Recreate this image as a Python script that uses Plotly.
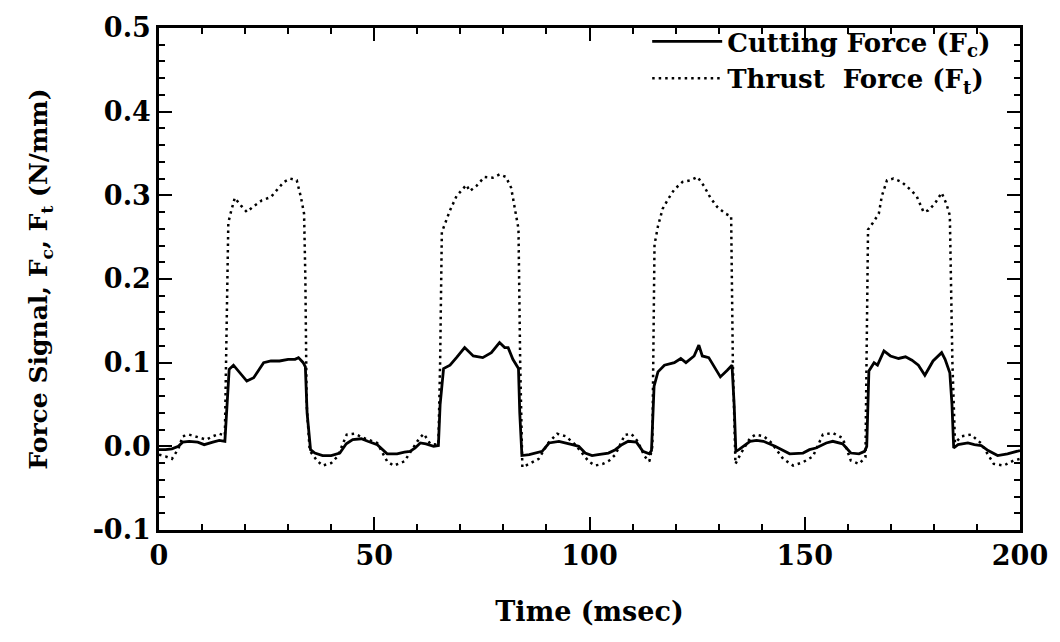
import plotly.graph_objects as go

# ---- data ----
time_fc = [0, 1.5, 3, 4.5, 5.5, 7, 9, 10.5, 12.5, 14, 15.3, 15.8, 16.3, 17.3, 18.5, 20.4, 22, 24.3, 26, 28, 30, 31.6, 32.4, 33.5, 34.0, 34.4, 35.2, 36.2, 38, 40, 42, 43.5, 45, 47, 48.5, 50.7, 53, 55.3, 57, 58.3, 59.5, 60.7, 62, 63.8, 64.9, 65.3, 66.1, 67.6, 69.1, 71.0, 73.0, 75.2, 77.2, 79.1, 80.3, 81.1, 82.2, 83.5, 83.8, 84.3, 86, 87.5, 89, 90.6, 92.9, 96.0, 97.5, 99.0, 100.6, 102, 104.4, 106, 107.5, 109.0, 110.9, 112.4, 113.9, 114.4, 115.0, 115.9, 117.4, 119.7, 121.2, 122.4, 124.3, 125.4, 126.2, 127.7, 130.4, 132.0, 133.1, 133.6, 134.0, 134.7, 137.3, 138.8, 140.4, 143.1, 144.3, 146.5, 149.6, 151.1, 152.6, 155.0, 156.5, 158.8, 160.7, 162.6, 163.9, 164.4, 164.9, 166.1, 166.9, 168.4, 169.9, 171.8, 173.4, 174.9, 176.4, 177.9, 179.8, 181.8, 182.6, 183.7, 184.2, 184.6, 185.6, 187.9, 189.4, 191.0, 192.6, 194.8, 197.1, 199.5, 200]
fc = [-0.004, -0.004, -0.003, 0.0, 0.005, 0.006, 0.005, 0.002, 0.005, 0.007, 0.006, 0.05, 0.092, 0.097, 0.09, 0.078, 0.082, 0.100, 0.102, 0.102, 0.104, 0.104, 0.106, 0.100, 0.095, 0.04, -0.004, -0.008, -0.011, -0.011, -0.008, 0.003, 0.008, 0.009, 0.006, 0.002, -0.009, -0.009, -0.007, -0.006, -0.002, 0.004, 0.003, 0.0, 0.001, 0.05, 0.093, 0.097, 0.106, 0.118, 0.108, 0.106, 0.112, 0.124, 0.118, 0.118, 0.104, 0.093, 0.04, -0.011, -0.010, -0.008, -0.006, 0.004, 0.006, 0.002, 0.0, -0.008, -0.011, -0.010, -0.008, -0.004, 0.002, 0.006, 0.005, -0.006, -0.009, -0.005, 0.072, 0.089, 0.097, 0.100, 0.105, 0.100, 0.108, 0.121, 0.108, 0.106, 0.083, 0.091, 0.097, 0.05, -0.006, -0.004, 0.006, 0.007, 0.006, 0.0, -0.003, -0.009, -0.008, -0.004, -0.002, 0.004, 0.006, 0.003, -0.008, -0.009, -0.006, 0.0, 0.09, 0.100, 0.097, 0.114, 0.108, 0.105, 0.107, 0.103, 0.097, 0.085, 0.102, 0.112, 0.104, 0.088, 0.05, -0.002, 0.002, 0.004, 0.002, 0.001, -0.005, -0.011, -0.009, -0.006, -0.005]

time_ft = [0, 1.5, 3, 4.5, 5.5, 7, 9, 11, 12.5, 14, 15.3, 15.8, 16.1, 16.6, 17.6, 19, 20.4, 22, 23.9, 26, 27.5, 29, 30.5, 32, 33.0, 33.7, 34.0, 34.3, 35, 36.7, 38, 40, 41.5, 43.6, 45.5, 47.5, 50.7, 53, 54.5, 57, 58, 60.4, 61.5, 63, 64.9, 65.3, 65.7, 66.5, 67.6, 69.1, 71.4, 72.2, 73.7, 75.6, 77.5, 79.1, 80.6, 81.8, 82.9, 83.5, 83.9, 84.4, 86, 88.2, 90.4, 92.5, 94.5, 96.7, 99.8, 101.3, 103.1, 104.6, 106, 108.2, 109.7, 111.2, 112.8, 113.9, 114.6, 115.1, 115.9, 117.0, 118.2, 119.7, 121.6, 123.5, 125.1, 126.6, 128.1, 129.7, 131.6, 132.9, 133.3, 133.9, 135.0, 137.3, 138.6, 140.5, 142.3, 145.0, 147.3, 149.6, 151.9, 153.5, 154.2, 156.5, 158.8, 160.7, 162.6, 164.1, 164.7, 165.8, 167.2, 167.9, 169.1, 170.6, 172.5, 174.5, 176.0, 177.6, 178.7, 180.2, 181.8, 182.9, 183.7, 184.3, 184.9, 186.4, 188.6, 190.9, 193.9, 196.2, 198.5, 200]
ft = [-0.010, -0.012, -0.015, -0.003, 0.012, 0.014, 0.011, 0.008, 0.012, 0.015, 0.013, 0.15, 0.267, 0.278, 0.297, 0.288, 0.280, 0.287, 0.294, 0.298, 0.307, 0.316, 0.320, 0.318, 0.297, 0.278, 0.20, 0.05, -0.005, -0.017, -0.023, -0.020, -0.012, 0.014, 0.015, 0.010, 0.004, -0.018, -0.023, -0.018, -0.010, 0.009, 0.015, 0.003, 0.002, 0.10, 0.256, 0.267, 0.282, 0.299, 0.3125, 0.305, 0.311, 0.322, 0.321, 0.325, 0.322, 0.309, 0.278, 0.260, 0.10, -0.025, -0.021, -0.015, 0.004, 0.015, 0.012, 0.002, -0.018, -0.023, -0.021, -0.017, -0.010, 0.0136, 0.015, 0.006, -0.012, -0.018, 0.0, 0.241, 0.263, 0.284, 0.295, 0.307, 0.316, 0.318, 0.322, 0.311, 0.297, 0.286, 0.278, 0.275, 0.10, -0.021, -0.010, 0.010, 0.014, 0.012, 0.004, -0.015, -0.023, -0.019, -0.012, 0.005, 0.014, 0.016, 0.010, -0.017, -0.021, -0.013, 0.259, 0.267, 0.278, 0.299, 0.318, 0.320, 0.316, 0.307, 0.299, 0.280, 0.282, 0.290, 0.303, 0.290, 0.276, 0.10, 0.004, 0.012, 0.014, 0.004, -0.021, -0.023, -0.017, -0.015]

x_tickvals = [0, 50, 100, 150, 200]
x_ticktext = ["0", "50", "100", "150", "200"]
y_tickvals = [-0.1, 0.0, 0.1, 0.2, 0.3, 0.4, 0.5]
y_ticktext = ["-0.1", "0.0", "0.1", "0.2", "0.3", "0.4", "0.5"]

name_fc = "Cutting Force (F<sub>c</sub>)"
name_ft = "Thrust  Force (F<sub>t</sub>)"
x_title = "Time (msec)"
y_title = "Force Signal, F<sub>c</sub>, F<sub>t</sub> (N/mm)"

FONT = "DejaVu Serif"

fig = go.Figure()
fig.add_trace(go.Scatter(x=time_fc, y=fc, mode="lines", name=name_fc,
                         line=dict(color="black", width=2.8)))
fig.add_trace(go.Scatter(x=time_ft, y=ft, mode="lines", name=name_ft,
                         line=dict(color="black", width=2.5, dash="2.5px,4px")))

axis_common = dict(
    showline=True, linecolor="black", linewidth=2.5, mirror="ticks",
    ticks="inside", ticklen=13, tickwidth=2, tickcolor="black",
    showgrid=False, zeroline=False, ticklabeloverflow="allow",
    tickfont=dict(family=FONT, size=27, color="black", weight="bold"),
)

fig.update_xaxes(range=[0, 200], tickvals=x_tickvals, ticktext=x_ticktext,
                 minor=dict(dtick=10, ticks="inside", ticklen=6, tickwidth=1.5, tickcolor="black"),
                 title=dict(text=x_title, standoff=32,
                            font=dict(family=FONT, size=27, color="black", weight="bold")),
                 **axis_common)
fig.update_yaxes(range=[-0.1, 0.5], tickvals=y_tickvals, ticktext=y_ticktext,
                 minor=dict(dtick=0.02, ticks="inside", ticklen=6, tickwidth=1.5, tickcolor="black"),
                 title=dict(text=y_title, standoff=38,
                            font=dict(family=FONT, size=25, color="black", weight="bold")),
                 **axis_common)

fig.update_layout(
    width=1060, height=642,
    margin=dict(l=159, r=30, t=14, b=112),
    paper_bgcolor="white", plot_bgcolor="white",
    showlegend=True,
    legend=dict(x=0.567, y=1.02, xanchor="left", yanchor="top",
                bgcolor="rgba(0,0,0,0)", itemwidth=70,
                font=dict(family=FONT, size=26, color="black", weight="bold")),
)

fig.write_html("out.html")
